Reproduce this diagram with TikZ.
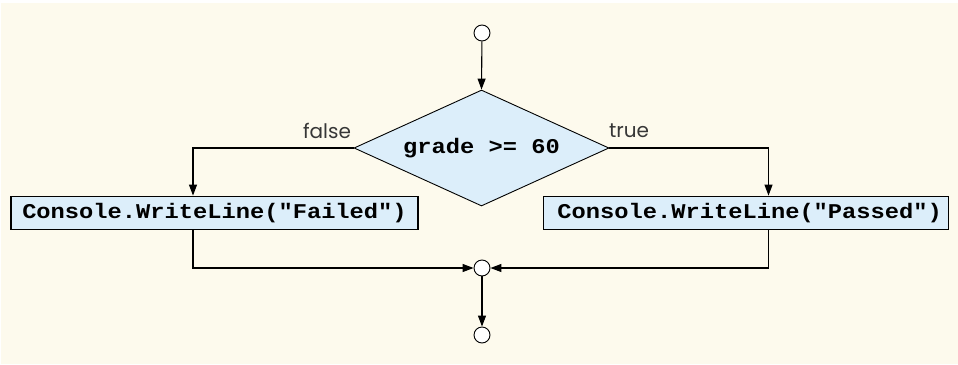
\documentclass[tikz,border=0pt]{standalone}
\usepackage{fontspec}
\setmonofont{Liberation Mono}[FakeStretch=1.13]
\newfontfamily\lblfont{Poppins}
\usetikzlibrary{shapes.geometric,arrows.meta}
\definecolor{bgcream}{RGB}{253,250,237}
\definecolor{boxblue}{RGB}{220,238,250}
\definecolor{lblgray}{RGB}{55,55,55}
\tikzset{
  circ/.style={circle,draw,fill=white,line width=0.9pt,minimum size=16pt,inner sep=0pt},
  decision/.style={diamond,shape aspect=2.2,draw,fill=boxblue,line width=0.9pt,minimum width=255pt,minimum height=116pt,inner sep=0pt,font=\ttfamily\bfseries\fontsize{21pt}{24pt}\selectfont},
  actbox/.style={rectangle,draw,fill=boxblue,line width=1.2pt,minimum height=33pt,inner sep=0pt,font=\ttfamily\bfseries\fontsize{21pt}{24pt}\selectfont},
  lbl/.style={inner sep=0pt,text=lblgray,font=\lblfont\fontsize{20pt}{23pt}\selectfont},
  conn/.style={line width=1.1pt},
  arr/.style={conn,-{Triangle[length=11pt,width=8pt]}}
}
\begin{document}
\begin{tikzpicture}[x=1pt,y=-1pt]
\useasboundingbox (0,0) rectangle (958,364);
\fill[bgcream] (1,3) rectangle (958,364);
\node[circ] (s) at (482,33) {};
\node[decision] (d) at (481.5,148) {grade >= 60};
\node[actbox,minimum width=407pt] (fail) at (214.5,212.7) {Console.WriteLine("Failed")};
\node[actbox,minimum width=405pt] (pass) at (745.7,212.7) {\hspace*{8pt}Console.WriteLine("Passed")};
\node[circ] (m) at (482,268) {};
\node[circ] (e) at (482,335) {};
\node[lbl] (lf) at (327,131) {false};
\node[lbl] (lt) at (629,131) {true};
\coordinate (fl) at (193,148);
\coordinate (tr) at (768.5,148);
\draw[arr] (s) -- (d.north);
\draw[arr] (d.west) -- (fl) -- (fl |- fail.north);
\draw[arr] (d.east) -- (tr) -- (tr |- pass.north);
\draw[arr] (fl |- fail.south) -- (fl |- m) -- (m.west);
\draw[arr] (tr |- pass.south) -- (tr |- m) -- (m.east);
\draw[arr] (m) -- (e);
\end{tikzpicture}
\end{document}
